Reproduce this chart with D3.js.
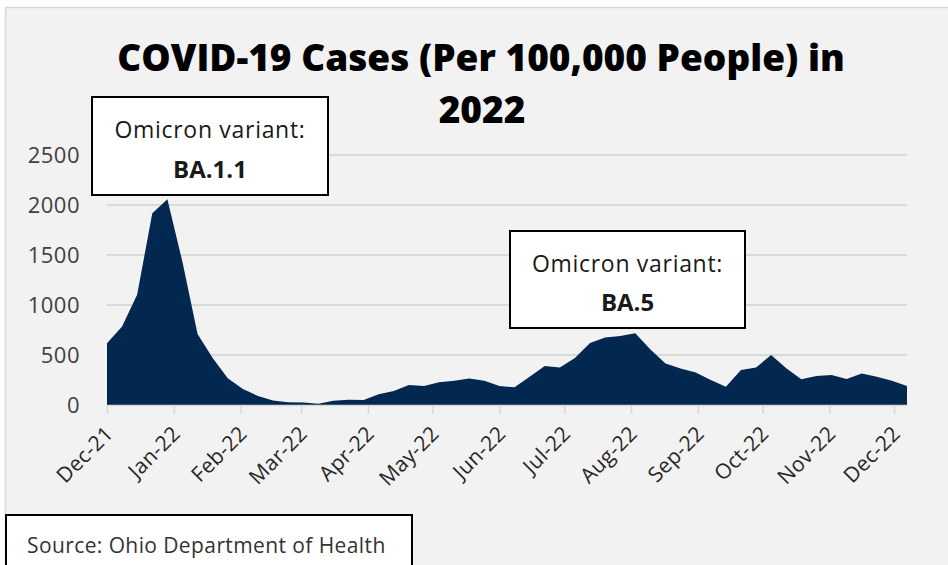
<!DOCTYPE html>
<html>
<head>
<meta charset="utf-8">
<script src="https://cdn.jsdelivr.net/npm/d3@7"></script>
<style>
  body { margin: 0; background: #ffffff; }
  svg { display: block; }
</style>
</head>
<body>
<script>
'use strict';

// weekly report dates (Wednesdays)
const weeks = [
  "2021-12-01","2021-12-08","2021-12-15","2021-12-22","2021-12-29",
  "2022-01-05","2022-01-12","2022-01-19","2022-01-26",
  "2022-02-02","2022-02-09","2022-02-16","2022-02-23",
  "2022-03-02","2022-03-09","2022-03-16","2022-03-23","2022-03-30",
  "2022-04-06","2022-04-13","2022-04-20","2022-04-27",
  "2022-05-04","2022-05-11","2022-05-18","2022-05-25",
  "2022-06-01","2022-06-08","2022-06-15","2022-06-22","2022-06-29",
  "2022-07-06","2022-07-13","2022-07-20","2022-07-27",
  "2022-08-03","2022-08-10","2022-08-17","2022-08-24","2022-08-31",
  "2022-09-07","2022-09-14","2022-09-21","2022-09-28",
  "2022-10-05","2022-10-12","2022-10-19","2022-10-26",
  "2022-11-02","2022-11-09","2022-11-16","2022-11-23","2022-11-30",
  "2022-12-07"
];

// cases per 100,000 people
const cases = [
  617, 785, 1105, 1917, 2057,
  1430, 710, 470, 267,
  160, 90, 45, 27,
  24, 13, 43, 53, 50,
  107, 140, 200, 190,
  227, 243, 265, 243,
  190, 177, 283, 390, 375,
  470, 620, 675, 690,
  717, 555, 415, 365, 325,
  250, 183, 350, 375,
  500, 367, 257, 290,
  300, 260, 315, 283, 243,
  190
];

const yTicks = [0, 500, 1000, 1500, 2000, 2500];

const titleLines = ["COVID-19 Cases (Per 100,000 People) in", "2022"];
const notes = [
  {label: "Omicron variant:", name: "BA.1.1"},
  {label: "Omicron variant:", name: "BA.5"}
];
const source = "Source: Ohio Department of Health";

const W = 948, H = 565;
const font = "'Open Sans', sans-serif";
const navy = "#03284f";

const parse = d3.timeParse("%Y-%m-%d");
const data = weeks.map((w, i) => ({date: parse(w), value: cases[i]}));

const svg = d3.select('body')
  .append('svg')
  .attr('width', W)
  .attr('height', H);

// panel background
svg.append('rect')
  .attr('x', 5.5).attr('y', 7.5)
  .attr('width', W).attr('height', H)
  .attr('fill', '#f2f2f2')
  .attr('stroke', '#d9d9d9')
  .attr('stroke-width', 1.5);

const x = d3.scaleTime()
  .domain([parse("2021-12-01"), parse("2022-12-07")])
  .range([107, 907]);

const y = d3.scaleLinear()
  .domain([0, 2500])
  .range([405, 155]);

// gridlines
svg.append('g')
  .selectAll('line')
  .data(yTicks.filter(d => d > 0))
  .enter()
  .append('line')
  .attr('x1', 107).attr('x2', 907)
  .attr('y1', d => y(d)).attr('y2', d => y(d))
  .attr('stroke', '#d9d9d9')
  .attr('stroke-width', 2);

// y labels
svg.append('g')
  .selectAll('text')
  .data(yTicks)
  .enter()
  .append('text')
  .attr('x', 80)
  .attr('y', d => y(d))
  .attr('dy', '0.36em')
  .attr('text-anchor', 'end')
  .style('font-family', font)
  .style('font-size', '22px')
  .style('letter-spacing', '0.5px')
  .style('fill', '#404040')
  .text(d => d);

// area
const area = d3.area()
  .x(d => x(d.date))
  .y0(y(0))
  .y1(d => y(d.value));

svg.append('path')
  .datum(data)
  .attr('d', area)
  .attr('fill', navy);

// x axis
const xAxis = d3.axisBottom(x)
  .ticks(d3.timeMonth.every(1))
  .tickFormat(d3.timeFormat("%b-%y"))
  .tickSize(9)
  .tickSizeOuter(0);

const gx = svg.append('g')
  .attr('transform', 'translate(0,' + y(0) + ')')
  .call(xAxis);

gx.select('.domain').attr('stroke', '#d9d9d9').attr('stroke-width', 1.5);
gx.selectAll('.tick line').attr('stroke', '#d9d9d9').attr('stroke-width', 1.5);
gx.selectAll('.tick text')
  .attr('x', 0).attr('y', 0).attr('dy', 0)
  .attr('text-anchor', 'end')
  .attr('transform', 'translate(7,30)rotate(-45)')
  .style('font-family', font)
  .style('font-size', '21px')
  .style('letter-spacing', '0.3px')
  .style('fill', '#262626');

// title
svg.append('text')
  .attr('x', 481).attr('y', 71)
  .attr('text-anchor', 'middle')
  .style('font-family', font)
  .style('font-weight', 800)
  .style('font-size', '37px')
  .style('fill', '#000')
  .text(titleLines[0]);

svg.append('text')
  .attr('x', 482).attr('y', 123)
  .attr('text-anchor', 'middle')
  .style('font-family', font)
  .style('font-weight', 800)
  .style('font-size', '37px')
  .style('fill', '#000')
  .text(titleLines[1]);

// annotation boxes
const boxes = [
  {x: 92, y: 97, w: 236, h: 98, l1: 138, l2: 178},
  {x: 510, y: 231, w: 235, h: 97, l1: 272, l2: 311}
];

boxes.forEach((b, i) => {
  svg.append('rect')
    .attr('x', b.x).attr('y', b.y)
    .attr('width', b.w).attr('height', b.h)
    .attr('fill', '#fff')
    .attr('stroke', '#000')
    .attr('stroke-width', 2);
  svg.append('text')
    .attr('x', b.x + b.w / 2).attr('y', b.l1)
    .attr('text-anchor', 'middle')
    .style('font-family', font)
    .style('font-size', '23px')
    .style('letter-spacing', '0.7px')
    .style('fill', '#1a1a1a')
    .text(notes[i].label);
  svg.append('text')
    .attr('x', b.x + b.w / 2).attr('y', b.l2)
    .attr('text-anchor', 'middle')
    .style('font-family', font)
    .style('font-weight', 700)
    .style('font-size', '24px')
    .style('fill', '#1a1a1a')
    .text(notes[i].name);
});

// source box
svg.append('rect')
  .attr('x', 6).attr('y', 515)
  .attr('width', 406).attr('height', 70)
  .attr('fill', '#fff')
  .attr('stroke', '#000')
  .attr('stroke-width', 2);

svg.append('text')
  .attr('x', 27).attr('y', 553)
  .style('font-family', font)
  .style('font-size', '21px')
  .style('letter-spacing', '0.4px')
  .style('fill', '#333')
  .text(source);
</script>
</body>
</html>
